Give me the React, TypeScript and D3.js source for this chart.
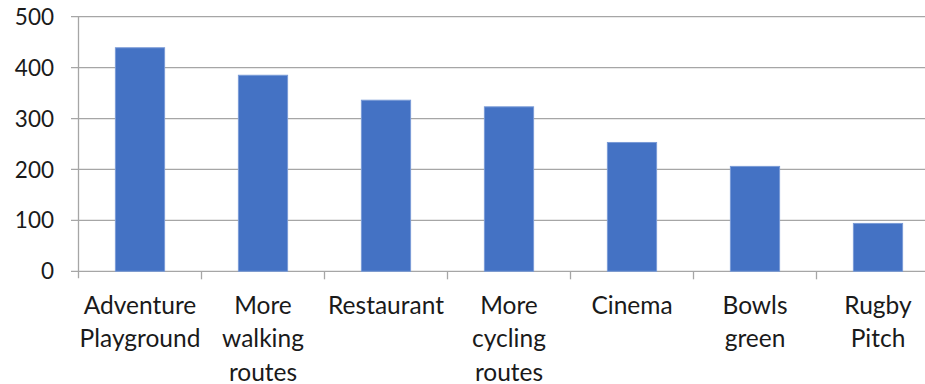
import React from "react";
import * as d3 from "d3";

const categories: string[][] = [
  ["Adventure", "Playground"],
  ["More", "walking", "routes"],
  ["Restaurant"],
  ["More", "cycling", "routes"],
  ["Cinema"],
  ["Bowls", "green"],
  ["Rugby", "Pitch"],
];
const values: number[] = [439, 385, 336, 323, 253, 206, 94];
const yTicks: number[] = [0, 100, 200, 300, 400, 500];

export default function App() {
  const W = 925, H = 384;
  const left = 78.5, right = 939.5, top = 16.7, bottom = 271.3;
  const names = categories.map((c) => c.join(" "));
  const x = d3.scaleBand<string>().domain(names).range([left, right]).paddingInner(0.6).paddingOuter(0.3);
  const xs = d3.scaleBand<string>().domain(names).range([left, right]);
  const y = d3.scaleLinear().domain([0, 500]).range([bottom, top]);
  const font = "Lato, 'Open Sans', sans-serif";
  return (
    <svg width={W} height={H} style={{ position: "absolute", left: 0, top: 0 }}>
      <rect width={W} height={H} fill="#fff" />
      {yTicks.map((t) => (
        <g key={t}>
          <line x1={71} x2={right} y1={y(t)} y2={y(t)} stroke="#a6a6a6" strokeWidth={1.3} />
          <text x={54} y={y(t)} dy="0.36em" textAnchor="end" fontFamily={font} fontSize={22.5} fill="#1a1a1a">
            {t}
          </text>
        </g>
      ))}
      <line x1={left} x2={left} y1={top} y2={bottom + 7} stroke="#a6a6a6" strokeWidth={1.3} />
      {names.map((n, i) => (
        <line key={"t" + i} x1={xs(n)! + xs.bandwidth()} x2={xs(n)! + xs.bandwidth()} y1={bottom} y2={bottom + 8} stroke="#a6a6a6" strokeWidth={1.3} />
      ))}
      {names.map((n, i) => (
        <rect
          key={n}
          x={x(n)}
          y={y(values[i])}
          width={x.bandwidth()}
          height={bottom - y(values[i])}
          fill="#4472c4"
          stroke="#7a9bd6"
          strokeWidth={1}
        />
      ))}
      {categories.map((lines, i) => {
        const cx = xs(names[i])! + xs.bandwidth() / 2;
        return (
          <text key={"l" + i} x={cx} textAnchor="middle" fontFamily={font} fontSize={24.5} fill="#1a1a1a">
            {lines.map((l, j) => (
              <tspan key={j} x={cx} y={313.5 + j * 33.5}>
                {l}
              </tspan>
            ))}
          </text>
        );
      })}
    </svg>
  );
}
